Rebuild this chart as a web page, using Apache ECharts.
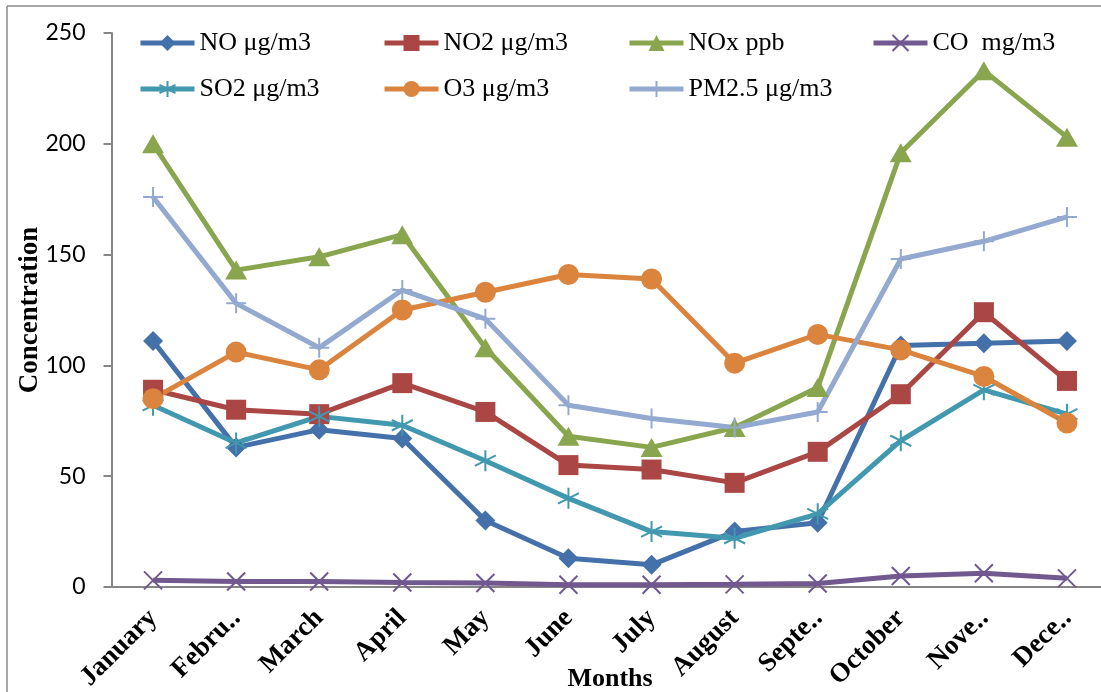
<!DOCTYPE html>
<html>
<head>
<meta charset="utf-8">
<script src="https://cdn.jsdelivr.net/npm/echarts@6/dist/echarts.min.js"></script>
<style>
  html, body { margin: 0; padding: 0; background: #fff; overflow: hidden; }
  #chart { width: 1101px; height: 692px; }
</style>
</head>
<body>
<div id="chart"></div>
<script>
// Monthly pollutant concentrations
const months = ['January', 'Febru‥', 'March', 'April', 'May', 'June', 'July', 'August', 'Septe‥', 'October', 'Nove‥', 'Dece‥'];
const yTicks = [0, 50, 100, 150, 200, 250];

const noValues   = [111, 63, 71, 67, 30, 13, 10, 25, 29, 109, 110, 111];
const no2Values  = [89, 80, 78, 92, 79, 55, 53, 47, 61, 87, 124, 93];
const noxValues  = [200, 143, 149, 159, 108, 68, 63, 72, 90, 196, 233, 203];
const coValues   = [3, 2.5, 2.5, 2, 1.8, 1, 1, 1.2, 1.6, 5, 6.2, 3.9];
const so2Values  = [82, 65, 77, 73, 57, 40, 25, 22, 33, 66, 89, 78];
const o3Values   = [85, 106, 98, 125, 133, 141, 139, 101, 114, 107, 95, 74];
const pm25Values = [176, 128, 108, 134, 121, 82, 76, 72, 79, 148, 156, 167];

const seriesNames = ['NO μg/m3', 'NO2 μg/m3', 'NOx ppb', 'CO  mg/m3', 'SO2 μg/m3', 'O3 μg/m3', 'PM2.5 μg/m3'];

const serif = '"Liberation Serif", "Times New Roman", serif';
const sans = 'Lato, "Open Sans", sans-serif';

const asterisk = 'path://M0,-10L0,10M-8.7,-5L8.7,5M-8.7,5L8.7,-5';
const plus = 'path://M0,-10L0,10M-10,0L10,0';
const cross = 'path://M-10,-10L10,10M-10,10L10,-10';

function lineSeries(name, data, color, symbol, size, stroked) {
  return {
    name: name,
    type: 'line',
    data: data,
    symbol: symbol,
    symbolSize: size,
    showSymbol: true,
    lineStyle: { color: color, width: 5 },
    itemStyle: stroked
      ? { color: color, borderColor: color, borderWidth: 2 }
      : { color: color, borderWidth: 0 },
    emphasis: { disabled: true }
  };
}

const chart = echarts.init(document.getElementById('chart'), null, { renderer: 'canvas' });

function legendColumn(left, names) {
  return {
    orient: 'vertical',
    left: left,
    top: 30,
    padding: 0,
    itemWidth: 54,
    itemHeight: 20,
    itemGap: 20,
    selectedMode: false,
    lineStyle: { width: 5 },
    textStyle: { fontFamily: serif, fontSize: 26, color: '#000', lineHeight: 24 },
    data: names
  };
}

chart.setOption({
  animation: false,
  backgroundColor: '#fff',
  // chart frame: only its top and left edges fall inside the canvas
  graphic: [
    { type: 'line', shape: { x1: 7, y1: 6, x2: 1101, y2: 6 }, style: { stroke: '#8a8a8a', lineWidth: 1.5 }, z: -1 },
    { type: 'line', shape: { x1: 7, y1: 6, x2: 7, y2: 692 }, style: { stroke: '#8a8a8a', lineWidth: 1.5 }, z: -1 }
  ],
  legend: [
    legendColumn(138, [seriesNames[0], seriesNames[4]]),
    legendColumn(382, [seriesNames[1], seriesNames[5]]),
    legendColumn(627, [seriesNames[2], seriesNames[6]]),
    legendColumn(871, [seriesNames[3]])
  ],
  grid: {
    left: 111.5, top: 33, width: 997, height: 554,
    containLabel: false, outerBoundsMode: 'none'
  },
  xAxis: {
    type: 'category',
    data: months,
    boundaryGap: true,
    axisLine: { lineStyle: { color: '#868686', width: 2 } },
    axisTick: { show: false },
    axisLabel: {
      rotate: 45,
      margin: 27,
      interval: 0,
      fontFamily: serif,
      fontWeight: 'bold',
      fontSize: 27,
      color: '#000'
    },
    name: 'Months',
    nameLocation: 'middle',
    nameGap: 79,
    nameMoveOverlap: false,
    nameTextStyle: { fontFamily: serif, fontWeight: 'bold', fontSize: 26, color: '#000' }
  },
  yAxis: {
    type: 'value',
    min: yTicks[0],
    max: yTicks[yTicks.length - 1],
    interval: 50,
    axisLine: { show: true, lineStyle: { color: '#868686', width: 2 } },
    axisTick: { show: true, inside: false, length: 8, lineStyle: { color: '#868686', width: 2 } },
    splitLine: { show: false },
    axisLabel: { margin: 26, fontFamily: sans, fontSize: 23, color: '#000' },
    name: 'Concentration',
    nameLocation: 'middle',
    nameGap: 68,
    nameMoveOverlap: false,
    nameTextStyle: { fontFamily: serif, fontWeight: 'bold', fontSize: 27, color: '#000' }
  },
  series: [
    lineSeries(seriesNames[0], noValues, '#4471a9', 'diamond', [20, 20], false),
    lineSeries(seriesNames[1], no2Values, '#aa4644', 'rect', 20, false),
    lineSeries(seriesNames[2], noxValues, '#89a54e', 'triangle', [22, 19], false),
    lineSeries(seriesNames[3], coValues, '#71588f', cross, 18, true),
    lineSeries(seriesNames[4], so2Values, '#4198af', asterisk, 21, true),
    lineSeries(seriesNames[5], o3Values, '#db843d', 'circle', 21, false),
    lineSeries(seriesNames[6], pm25Values, '#93a9cf', plus, 20, true)
  ]
});
</script>
</body>
</html>
